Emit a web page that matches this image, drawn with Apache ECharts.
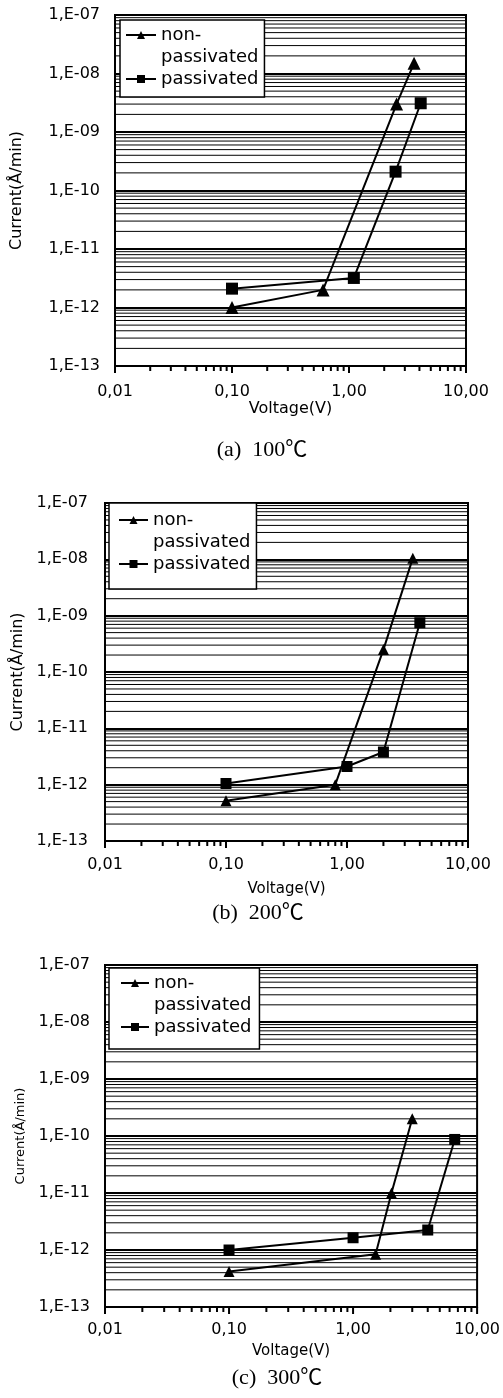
<!DOCTYPE html>
<html>
<head>
<meta charset="utf-8">
<script src="https://cdn.jsdelivr.net/npm/echarts@6/dist/echarts.min.js"></script>
<style>
html, body { margin: 0; padding: 0; background: #fff; }
#chart { width: 503px; height: 1398px; }
</style>
</head>
<body>
<div id="chart"></div>
<script>
// voltage (V) and current (A/min)
var voltNonA = [0.1, 0.6, 2.55, 3.6];
var currNonA = [1.0e-12, 2.0e-12, 3.0e-9, 1.5e-8];
var voltPasA = [0.1, 1.1, 2.5, 4.1];
var currPasA = [2.1e-12, 3.2e-12, 2.1e-10, 3.1e-9];

var voltNonB = [0.1, 0.8, 2.0, 3.5];
var currNonB = [5.2e-13, 1.0e-12, 2.5e-10, 1.05e-8];
var voltPasB = [0.1, 1.0, 2.0, 4.0];
var currPasB = [1.05e-12, 2.1e-12, 3.8e-12, 7.5e-10];

var voltNonC = [0.1, 1.52, 2.04, 3.0];
var currNonC = [4.2e-13, 8.4e-13, 1.0e-11, 2.0e-10];
var voltPasC = [0.1, 1.0, 4.0, 6.6];
var currPasC = [1.0e-12, 1.64e-12, 2.24e-12, 8.7e-11];

var seriesNames = ['non-passivated', 'passivated'];
var captions = ['(a)  100℃', '(b)  200℃', '(c)  300℃'];
var yExponents = [-13, -12, -11, -10, -9, -8];   // decades carrying minor grid lines
var xExponents = [-2, -1, 0];                    // decades carrying minor x ticks
var minorSteps = [2, 3, 4, 5, 6, 7, 8, 9];

function zip(xs, ys) {
  return xs.map(function (x, i) { return [x, ys[i]]; });
}

var panels = [
  {
    non: zip(voltNonA, currNonA), pas: zip(voltPasA, currPasA),
    grid: { left: 115, top: 15, width: 351, height: 351 },
    cap: [262, 450], yNameGap: 90, yNameSize: 16, xNameGap: 33, xNameSize: 16,
    xLabelMargin: 18, yLabelMargin: 15, symTri: 13, symRect: 12,
    legend: { left: 120, top: 20, padding: [-18, 6, 7, 5], itemWidth: 30 }
  },
  {
    non: zip(voltNonB, currNonB), pas: zip(voltPasB, currPasB),
    grid: { left: 105, top: 503, width: 363, height: 338 },
    cap: [258, 913], yNameGap: 79, yNameSize: 16, xNameGap: 41, xNameSize: 15,
    xLabelMargin: 16, yLabelMargin: 17, symTri: 11, symRect: 11,
    legend: { left: 109, top: 503, padding: [-16, 6, 14, 9], itemWidth: 29 }
  },
  {
    non: zip(voltNonC, currNonC), pas: zip(voltPasC, currPasC),
    grid: { left: 105, top: 965, width: 377, height: 342 },
    cap: [277, 1378], yNameGap: 72, yNameSize: 13, xNameGap: 37, xNameSize: 15,
    xLabelMargin: 15, yLabelMargin: 15, symTri: 11, symRect: 11,
    legend: { left: 109, top: 968, padding: [-18, 8, 11, 11], itemWidth: 28 }
  }
];

var sans = "'DejaVu Sans', sans-serif";

// minor horizontal grid values and minor x tick values
var minorY = [];
yExponents.forEach(function (e) {
  minorSteps.forEach(function (m) { minorY.push([0.01, m * Math.pow(10, e)]); });
});
var minorX = [];
xExponents.forEach(function (e) {
  minorSteps.forEach(function (m) { minorX.push([m * Math.pow(10, e), 1e-13]); });
});
var majorX = [[0.01, 1e-13], [0.1, 1e-13], [1, 1e-13], [10, 1e-13]];

function gridLineItem(params, api) {
  var cs = params.coordSys;
  var y = api.coord([api.value(0), api.value(1)])[1];
  return {
    type: 'line',
    shape: { x1: cs.x, y1: y, x2: cs.x + cs.width, y2: y },
    style: { stroke: '#000', lineWidth: 1 }
  };
}

function tickItem(len) {
  return function (params, api) {
    var p = api.coord([api.value(0), api.value(1)]);
    return {
      type: 'line',
      shape: { x1: p[0], y1: p[1], x2: p[0], y2: p[1] + len },
      style: { stroke: '#000', lineWidth: 2 }
    };
  };
}

var option = {
  animation: false,
  backgroundColor: '#fff',
  grid: [], xAxis: [], yAxis: [], legend: [], series: [], graphic: []
};

panels.forEach(function (p, i) {
  option.grid.push({
    left: p.grid.left, top: p.grid.top, width: p.grid.width, height: p.grid.height,
    show: true, borderColor: '#000', borderWidth: 2, backgroundColor: '#fff'
  });
  option.xAxis.push({
    gridIndex: i, type: 'log', logBase: 10, min: 0.01, max: 10,
    name: 'Voltage(V)', nameLocation: 'middle', nameGap: p.xNameGap,
    nameTextStyle: { fontFamily: sans, fontSize: p.xNameSize, color: '#000' },
    axisLine: { lineStyle: { color: '#000', width: 2 } },
    axisTick: { show: false },
    axisLabel: {
      margin: p.xLabelMargin, fontFamily: sans, fontSize: 16, color: '#000',
      formatter: function (v) { return v.toFixed(2).replace('.', ','); }
    },
    splitLine: { show: false }
  });
  option.yAxis.push({
    gridIndex: i, type: 'log', logBase: 10, min: 1e-13, max: 1e-7,
    name: 'Current(Å/min)', nameLocation: 'middle', nameGap: p.yNameGap,
    nameTextStyle: { fontFamily: sans, fontSize: p.yNameSize, color: '#000' },
    axisLine: { lineStyle: { color: '#000', width: 2 } },
    axisTick: { show: false },
    axisLabel: {
      margin: p.yLabelMargin, fontFamily: sans, fontSize: 16, color: '#000',
      formatter: function (v) {
        var e = Math.abs(Math.round(Math.log10(v)));
        return '1,E-' + (e < 10 ? '0' : '') + e;
      }
    },
    splitLine: { show: true, lineStyle: { color: '#000', width: 2 } }
  });
  option.legend.push({
    left: p.legend.left, top: p.legend.top, orient: 'vertical',
    padding: p.legend.padding, itemGap: 0,
    itemWidth: p.legend.itemWidth, itemHeight: 10,
    backgroundColor: '#fff', borderColor: '#000', borderWidth: 1.5, borderRadius: 0,
    selectedMode: false,
    data: seriesNames,
    formatter: function (name) {
      // blank first line keeps the icon beside "non-"
      return name === 'non-passivated' ? '\nnon-\npassivated' : name;
    },
    textStyle: { fontFamily: sans, fontSize: 18, lineHeight: 22, color: '#000' }
  });
  option.series.push({
    type: 'custom', name: 'minor-grid-' + i, xAxisIndex: i, yAxisIndex: i,
    data: minorY, renderItem: gridLineItem, silent: true, z: 1
  });
  option.series.push({
    type: 'custom', name: 'minor-tick-' + i, xAxisIndex: i, yAxisIndex: i,
    data: minorX, renderItem: tickItem(5), silent: true, clip: false, z: 5
  });
  option.series.push({
    type: 'custom', name: 'major-tick-' + i, xAxisIndex: i, yAxisIndex: i,
    data: majorX, renderItem: tickItem(7), silent: true, clip: false, z: 5
  });
  option.series.push({
    type: 'line', name: seriesNames[0], xAxisIndex: i, yAxisIndex: i,
    data: p.non, symbol: 'triangle', symbolSize: p.symTri,
    itemStyle: { color: '#000' }, lineStyle: { color: '#000', width: 2 }, z: 3
  });
  option.series.push({
    type: 'line', name: seriesNames[1], xAxisIndex: i, yAxisIndex: i,
    data: p.pas, symbol: 'rect', symbolSize: p.symRect,
    itemStyle: { color: '#000' }, lineStyle: { color: '#000', width: 2 }, z: 3
  });
  option.graphic.push({
    type: 'text', x: p.cap[0], y: p.cap[1],
    style: {
      text: captions[i], align: 'center', verticalAlign: 'middle',
      fontFamily: "'Liberation Serif', 'Noto Sans CJK SC', serif", fontSize: 22, fill: '#000'
    }
  });
});

var chart = echarts.init(document.getElementById('chart'));
chart.setOption(option);
</script>
</body>
</html>
